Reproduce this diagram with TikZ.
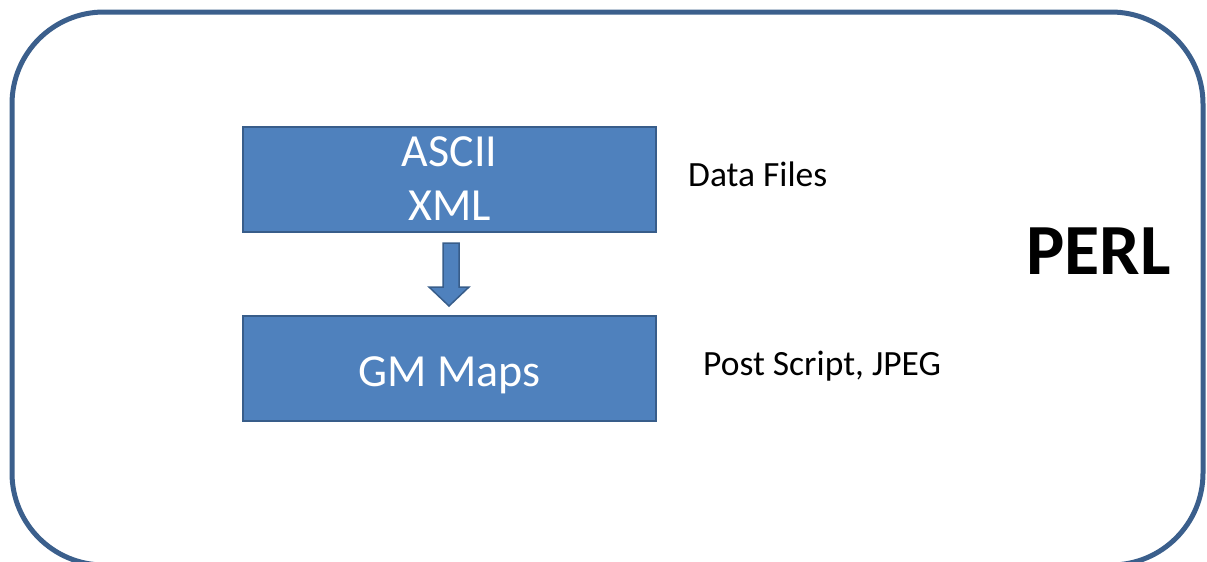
\documentclass[tikz,border=0pt]{standalone}
\usepackage{fontspec}
\setmainfont{Carlito}
\definecolor{frameblue}{HTML}{3B5F8C}
\definecolor{boxfill}{HTML}{4F81BD}
\definecolor{boxline}{HTML}{385D8A}
\begin{document}
\begin{tikzpicture}[x=1pt,y=-1pt,
  panel/.style={draw=boxline,line width=2pt,fill=boxfill,
    minimum width=413pt,minimum height=105pt,inner sep=0pt},
  paneltext/.style={anchor=base,inner sep=0pt,text=white,align=center,
    font=\fontsize{46}{54}\selectfont},
  note/.style={anchor=base west,inner sep=0pt,text=black}]
\useasboundingbox (0,0) rectangle (1207,562);
% outer frame
\draw[frameblue,line width=5pt,rounded corners=92pt] (12,12) rectangle (1203,565);
% boxes
\node[panel] (data) at (449.5,179.5) {};
\node[panel] (maps) at (449.5,368.5) {};
% the base anchor of a two-line node sits on its last line
\node[paneltext] (datatext) at (449.5,220) {ASCII\\XML};
\node[paneltext] (mapstext) at (449.5,386) {GM Maps};
% block arrow between boxes
\draw[boxline,line width=1.5pt,fill=boxfill]
  (443,243) -- (459,243) -- (459,287) -- (469,287) -- (449,306) -- (429,287) -- (443,287) -- cycle;
% labels
\node[note,font=\fontsize{35.5}{42}\selectfont] (df) at (688,186) {Data Files};
\node[note,font=\fontsize{35.5}{42}\selectfont] (ps) at (703,375) {Post Script, JPEG};
\node[note,font=\fontsize{72}{80}\selectfont\bfseries] (perl) at (1026,274) {PERL};
\end{tikzpicture}
\end{document}
